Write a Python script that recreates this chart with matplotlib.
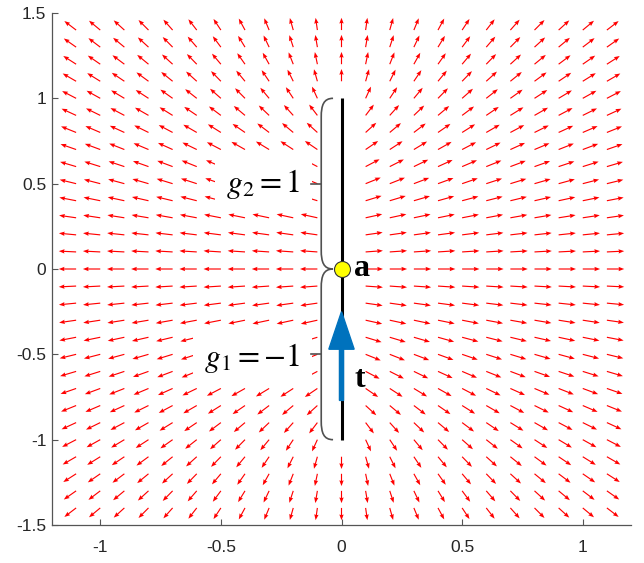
import numpy as np
import matplotlib
matplotlib.use("Agg")
import matplotlib.pyplot as plt
from matplotlib.path import Path
from matplotlib.patches import PathPatch

plt.rcParams['font.family'] = ['Liberation Sans', 'DejaVu Sans']
plt.rcParams['mathtext.fontset'] = 'stix'
plt.rcParams['axes.unicode_minus'] = False

# ---------------- data ----------------
x_grid = [-1.1, -1.0, -0.9, -0.8, -0.7, -0.6, -0.5, -0.4, -0.3, -0.2, -0.1, 0.0,
          0.1, 0.2, 0.3, 0.4, 0.5, 0.6, 0.7, 0.8, 0.9, 1.0, 1.1]
y_grid = [-1.4, -1.3, -1.2, -1.1, -1.0, -0.9, -0.8, -0.7, -0.6, -0.5, -0.4, -0.3,
          -0.2, -0.1, 0.0, 0.1, 0.2, 0.3, 0.4, 0.5, 0.6, 0.7, 0.8, 0.9, 1.0,
          1.1, 1.2, 1.3, 1.4]
seg_x = [0.0, 0.0]          # segment end points (x)
seg_y = [-1.0, 1.0]         # segment end points (y)
node_a = (0.0, 0.0)         # point a
g_labels = [r'$g_1=-1$', r'$g_2=1$']
g_label_y = [-0.52, 0.5]
tangent_y = [-0.77, -0.25]  # tangent arrow t: tail, tip
x_ticks = [-1, -0.5, 0, 0.5, 1]
x_tick_labels = ['-1', '-0.5', '0', '0.5', '1']
y_ticks = [-1.5, -1, -0.5, 0, 0.5, 1, 1.5]
y_tick_labels = ['-1.5', '-1', '-0.5', '0', '0.5', '1', '1.5']
arrow_len = 0.072

# ---------------- field of the segment ----------------
X, Y = np.meshgrid(x_grid, y_grid)
Z = X + 1j * Y
mid = 0.5 * (seg_y[0] + seg_y[1])
half = 0.5 * (seg_y[1] - seg_y[0])
W = -1j * (Z - 1j * mid) / half
conjE = -1j * (W - np.sqrt(W - 1) * np.sqrt(W + 1))
E = np.conj(conjE)
U, V = E.real, E.imag
on_seg = (np.abs(X - seg_x[0]) < 1e-9) & (Y >= seg_y[0] - 1e-9) & (Y <= seg_y[1] + 1e-9)
keep = ~on_seg
N = np.hypot(U, V)
Uf = (U / N * arrow_len)[keep]
Vf = (V / N * arrow_len)[keep]
Xf, Yf = X[keep], Y[keep]

# ---------------- figure ----------------
fig = plt.figure(figsize=(6.44, 5.63), dpi=100)
ax = fig.add_axes([52 / 644, 38 / 563, 579 / 644, 512 / 563])

ax.quiver(Xf, Yf, Uf, Vf, angles='xy', scale_units='xy', scale=1,
          color='red', units='dots', width=1.15, headwidth=3.8,
          headlength=5.0, headaxislength=4.5, zorder=2)

# segment
ax.plot(seg_x, seg_y, color='black', lw=2.2, zorder=3, solid_capstyle='butt')

# braces
bx = -0.084
ex = -0.035
for (y0, y1) in [(seg_y[1], node_a[1]), (node_a[1], seg_y[0])]:
    s = np.sign(y1 - y0)
    c = 0.11
    verts = [(ex, y0), (bx + 0.01, y0), (bx, y0 + s * 0.04), (bx, y0 + s * c),
             (bx, y1 - s * c),
             (bx, y1 - s * 0.04), (bx + 0.01, y1), (ex, y1)]
    codes = [Path.MOVETO, Path.CURVE4, Path.CURVE4, Path.CURVE4,
             Path.LINETO, Path.CURVE4, Path.CURVE4, Path.CURVE4]
    ax.add_patch(PathPatch(Path(verts, codes), fc='none', ec='#505050',
                           lw=1.2, zorder=5))
    ym = 0.5 * (y0 + y1)
    ax.plot([-0.126, bx], [ym, ym], color='#505050', lw=1.2, zorder=5)

# labels g1, g2
for lab, yy in zip(g_labels, g_label_y):
    ax.text(-0.17, yy, lab, fontsize=23, ha='right', va='center',
            bbox=dict(boxstyle='square,pad=0.35', fc='white', ec='none'),
            zorder=4)

# tangent arrow
ax.arrow(seg_x[0], tangent_y[0], 0, tangent_y[1] - tangent_y[0],
         width=0.017, head_width=0.105, head_length=0.22,
         length_includes_head=True, color='#0072BD', zorder=6)

# point a
ax.plot([node_a[0]], [node_a[1]], 'o', ms=11.5, mfc='#FFFF00', mec='#333333',
        mew=0.8, zorder=7)
ax.text(0.052, node_a[1], 'a', fontsize=23, fontweight='bold',
        family='Liberation Serif', ha='left', va='center', zorder=7)
ax.text(0.052, -0.65, 't', fontsize=23, fontweight='bold',
        family='Liberation Serif', ha='left', va='center', zorder=7)

ax.set_xlim(-1.2, 1.2)
ax.set_ylim(-1.5, 1.5)
ax.set_xticks(x_ticks)
ax.set_xticklabels(x_tick_labels)
ax.set_yticks(y_ticks)
ax.set_yticklabels(y_tick_labels)
for sp in ['top', 'right']:
    ax.spines[sp].set_visible(False)
for sp in ['left', 'bottom']:
    ax.spines[sp].set_color('#555555')
    ax.spines[sp].set_linewidth(0.9)
ax.tick_params(direction='in', length=4, width=0.8, colors='#555555',
               labelcolor='#262626', labelsize=12.5)
ax.tick_params(axis='x', pad=11)
ax.tick_params(axis='y', pad=4)

fig.savefig('out.png', dpi=100)
